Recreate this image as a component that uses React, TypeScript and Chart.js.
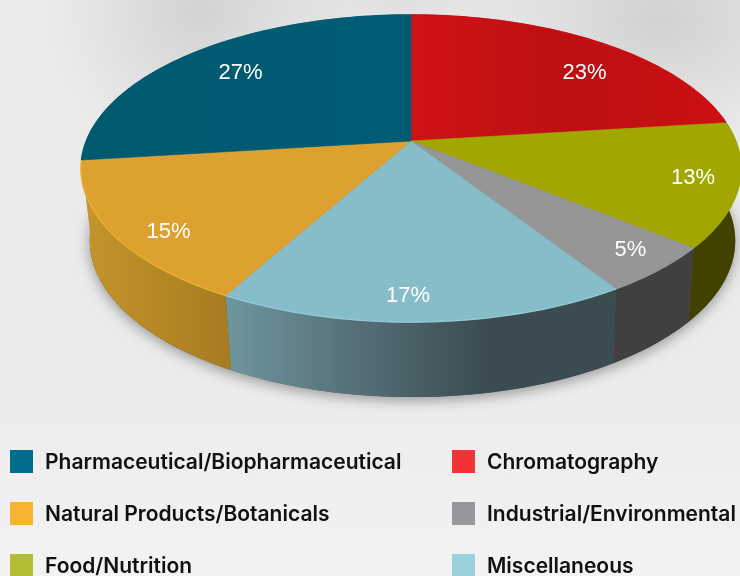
import React, { useEffect, useRef } from "react";
import { Chart, registerables } from "chart.js";

Chart.register(...registerables);

// clockwise from twelve o'clock
const categories = ["Chromatography", "Food/Nutrition", "Industrial/Environmental", "Miscellaneous", "Natural Products/Botanicals", "Pharmaceutical/Biopharmaceutical"];
const shares = [23, 13, 5, 17, 15, 27];
const faceColors = ["#cb1013", "#a1a600", "#969696", "#87bcc9", "#dca12e", "#005c75"];
const faceStops = [["#cf1317", "#bd0f12", "#cc1014"], ["#a1a600", "#a1a600"], ["#969696", "#969696"], ["#87bcc9", "#87bcc9"], ["#dca12e", "#dca12e"], ["#005a6f", "#005c75"]];
const rimColors = ["#cb1013", "#a1a600", "#969696", "#92c8d4", "#eab12d", "#005c75"];
// the rear slices' walls only show at the far left, where the gold wall continues
const wallStops = [["#7d0a0c", "#7d0a0c"], ["#424200", "#424200"], ["#404040", "#404040"], ["#6f969e", "#566f77", "#3a4c52", "#3a4c52"], ["#c5952c", "#a87c20"], ["#c5952c", "#c5952c"]];
const labelRadius = [0.772, 0.864, 0.878, 0.875, 0.868, 0.765];
const labelShiftDeg = [7.6, -0.8, -1.5, 2.3, -4.9, 0.1];

const legendOrder = ["Pharmaceutical/Biopharmaceutical", "Chromatography", "Natural Products/Botanicals", "Industrial/Environmental", "Food/Nutrition", "Miscellaneous"];
const legendColors = ["#006e8c", "#f43338", "#f7b331", "#97979c", "#b3bd33", "#99d1dc"];

// perspective of the disc: top face and base
const TILT = -0.179;
const TOP = { a: 324.7, b: 123.4, dx: 0, dy: 0 };
const BASE = { a: 317.5, b: 113, dx: 1.5, dy: 72 };

const project = (el: any, g: any, r: number, t: number) => {
  const u = r * Math.cos(t), v = r * Math.sin(t), d = 1 + TILT * v;
  return [el.x + g.dx + (g.a * u) / d, (el.y + g.dy + g.b * v) / d];
};

const rim = (el: any, g: any, from: number, to: number) => {
  const n = Math.max(8, Math.ceil((to - from) * 40)), pts: number[][] = [];
  for (let i = 0; i <= n; i++) pts.push(project(el, g, 1, from + ((to - from) * i) / n));
  return pts;
};

const trace = (ctx: CanvasRenderingContext2D, pts: number[][], start = true) => {
  pts.forEach((p, i) => (i === 0 && start ? ctx.moveTo(p[0], p[1]) : ctx.lineTo(p[0], p[1])));
};

const hGradient = (ctx: CanvasRenderingContext2D, pts: number[][], stops: string[]) => {
  const xs = pts.map((p) => p[0]);
  const g = ctx.createLinearGradient(Math.min(...xs), 0, Math.max(...xs), 0);
  stops.forEach((c, i) => g.addColorStop(i / (stops.length - 1), c));
  return g;
};

const disc3d = {
  id: "disc3d",
  beforeDatasetsDraw(chart: any) {
    const ctx: CanvasRenderingContext2D = chart.ctx;
    const arcs = chart.getDatasetMeta(0).data;
    const first = arcs[0];
    ctx.save();

    // ground shadow
    ctx.save();
    ctx.shadowColor = "rgba(0,0,0,0.38)";
    ctx.shadowBlur = 14;
    ctx.shadowOffsetY = 3;
    ctx.fillStyle = "#555";
    ctx.beginPath();
    trace(ctx, rim(first, BASE, 0, Math.PI * 2));
    ctx.closePath();
    ctx.fill();
    ctx.restore();

    // walls
    arcs.forEach((el: any, i: number) => {
      const t = rim(el, TOP, el.startAngle, el.endAngle);
      const b = rim(el, BASE, el.startAngle, el.endAngle);
      ctx.fillStyle = hGradient(ctx, t, wallStops[i]);
      ctx.beginPath();
      trace(ctx, t);
      trace(ctx, b.slice().reverse(), false);
      ctx.closePath();
      ctx.fill();
    });

    // top faces
    arcs.forEach((el: any, i: number) => {
      const t = rim(el, TOP, el.startAngle, el.endAngle);
      const c = project(el, TOP, 0, 0);
      const fill = hGradient(ctx, t.concat([c]), faceStops[i]);
      ctx.fillStyle = fill;
      ctx.strokeStyle = fill;
      ctx.lineWidth = 0.6;
      ctx.beginPath();
      ctx.moveTo(c[0], c[1]);
      trace(ctx, t, false);
      ctx.closePath();
      ctx.fill();
      ctx.stroke();
    });

    // bright edge of the front rim
    arcs.forEach((el: any, i: number) => {
      ctx.strokeStyle = rimColors[i];
      ctx.lineWidth = 1.4;
      ctx.beginPath();
      trace(ctx, rim(el, TOP, el.startAngle, el.endAngle));
      ctx.stroke();
    });

    // percent labels
    ctx.fillStyle = "#ffffff";
    ctx.font = '22px "Liberation Sans"';
    ctx.textAlign = "center";
    ctx.textBaseline = "middle";
    arcs.forEach((el: any, i: number) => {
      const mid = (el.startAngle + el.endAngle) / 2 + (labelShiftDeg[i] * Math.PI) / 180;
      const p = project(el, TOP, labelRadius[i], mid);
      ctx.fillText(`${shares[i]}%`, p[0], p[1] + 1);
    });
    ctx.restore();
    return false;
  },
};

const pageBackground = [
  "radial-gradient(ellipse 150px 150px at 200px 10px, rgba(205,205,205,0.8), rgba(205,205,205,0))",
  "radial-gradient(ellipse 190px 130px at 660px 20px, rgba(205,205,205,0.85), rgba(205,205,205,0))",
  "radial-gradient(ellipse 160px 60px at 400px 0px, rgba(210,210,210,0.45), rgba(210,210,210,0))",
  "linear-gradient(180deg, #ebebeb 0%, #ebebeb 65%, #f3f3f3 100%)",
].join(",");

export default function App() {
  const ref = useRef<HTMLCanvasElement>(null);
  useEffect(() => {
    const chart = new Chart(ref.current!, {
      type: "pie",
      data: {
        labels: categories,
        datasets: [{ data: shares, backgroundColor: faceColors, borderWidth: 0 }],
      },
      options: {
        responsive: false,
        animation: false,
        layout: { padding: { left: 82, bottom: 294 } },
        plugins: { legend: { display: false }, tooltip: { enabled: false } },
      },
      plugins: [disc3d],
    } as any);
    return () => chart.destroy();
  }, []);

  return (
    <div style={{ position: "fixed", left: 0, top: 0, width: 740, height: 576, overflow: "hidden", background: pageBackground }}>
      <canvas ref={ref} width={740} height={576} style={{ position: "absolute", left: 0, top: 0, width: 740, height: 576 }} />
      {legendOrder.map((name, i) => {
        const col = i % 2, row = Math.floor(i / 2);
        const left = col === 0 ? 10 : 452;
        const top = 450 + row * 52;
        return (
          <div key={name}>
            <div style={{ position: "absolute", left, top, width: 23, height: 23, background: legendColors[i] }} />
            <div
              style={{
                position: "absolute",
                left: left + 35,
                top: top - 2,
                whiteSpace: "nowrap",
                font: '600 21px/27px Inter',
                color: "#111",
              }}
            >
              {name}
            </div>
          </div>
        );
      })}
    </div>
  );
}
